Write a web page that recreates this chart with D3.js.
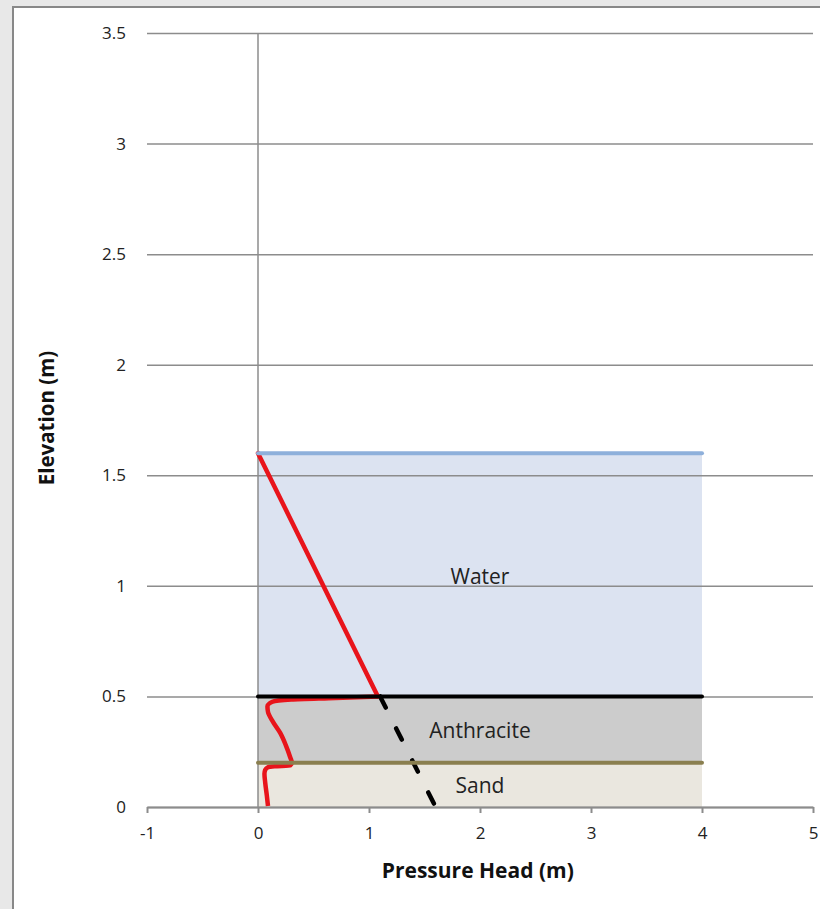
<!DOCTYPE html>
<html>
<head>
<meta charset="utf-8">
<script src="https://cdn.jsdelivr.net/npm/d3@7"></script>
<style>
  body { margin: 0; background: #e8e8e8; }
  svg { display: block; font-family: "Open Sans", "Liberation Sans", sans-serif; }
</style>
</head>
<body>
<svg id="chart" width="820" height="909"></svg>
<script>
// layers in the filter column
const layerNames = ['Water', 'Anthracite', 'Sand'];
const layerTops = [1.6, 0.5, 0.2];
const layerBottoms = [0.5, 0.2, 0];
const layerRight = 4;
const layerLabelY = [1.008, 0.312, 0.063];

// pressure head profile (red)
const waterHeadX = [0, 1.08];
const waterHeadY = [1.6, 0.5];
const mediaHeadX = [1.08, 0.7, 0.3, 0.13, 0.085, 0.09, 0.135, 0.2, 0.25, 0.29, 0.305, 0.29, 0.15, 0.09, 0.065, 0.058, 0.065, 0.08, 0.09];
const mediaHeadY = [0.5, 0.493, 0.486, 0.476, 0.455, 0.43, 0.385, 0.335, 0.28, 0.225, 0.2, 0.188, 0.184, 0.18, 0.168, 0.15, 0.11, 0.05, 0.005];

// hydrostatic extension (dashed)
const staticX = [1.1, 1.6];
const staticY = [0.5, 0];

const xTicks = [-1, 0, 1, 2, 3, 4, 5];
const yTicks = [0, 0.5, 1, 1.5, 2, 2.5, 3, 3.5];

const svg = d3.select('#chart');

// chart frame
svg.append('rect').attr('x', 0).attr('y', 0).attr('width', 820).attr('height', 909).attr('fill', '#e8e8e8');
svg.append('rect').attr('x', 13).attr('y', 7).attr('width', 830).attr('height', 920)
    .attr('fill', '#fff').attr('stroke', '#888').attr('stroke-width', 2);

const x = d3.scaleLinear().domain([-1, 5]).range([147, 813]);
const y = d3.scaleLinear().domain([0, 3.5]).range([807, 33]);

const fills = ['#dce3f1', '#cccccc', '#eae7df'];
const edges = ['#8eb0db', '#000000', '#8a7f4f'];

// layer fills
svg.selectAll('.layer')
    .data(layerNames)
    .enter()
    .append('rect')
    .attr('x', x(0))
    .attr('y', (d, i) => y(layerTops[i]))
    .attr('width', x(layerRight) - x(0))
    .attr('height', (d, i) => y(layerBottoms[i]) - y(layerTops[i]))
    .attr('fill', (d, i) => fills[i]);

// y gridlines + labels
const yAxis = svg.append('g')
    .attr('transform', `translate(${x(-1)},0)`)
    .call(d3.axisLeft(y).tickValues(yTicks).tickSize(-(x(5) - x(-1))).tickPadding(21).tickFormat(d => String(d)));
yAxis.attr('font-size', 17).attr('font-family', null);
yAxis.select('.domain').remove();
yAxis.selectAll('.tick line').attr('stroke', '#8c8c8c').attr('stroke-width', 1.5);
yAxis.selectAll('.tick text').attr('fill', '#222');

// vertical axis at x = 0
svg.append('line')
    .attr('x1', x(0)).attr('x2', x(0))
    .attr('y1', y(0)).attr('y2', y(3.5))
    .attr('stroke', '#8c8c8c').attr('stroke-width', 1.5);

// x axis
const xAxis = svg.append('g')
    .attr('transform', `translate(0,${y(0)})`)
    .call(d3.axisBottom(x).tickValues(xTicks).tickSize(6).tickSizeOuter(0).tickPadding(14).tickFormat(d => String(d)));
xAxis.attr('font-size', 17).attr('font-family', null);
xAxis.select('.domain').attr('stroke', '#8c8c8c').attr('stroke-width', 2);
xAxis.selectAll('.tick line').attr('stroke', '#8c8c8c').attr('stroke-width', 2);
xAxis.selectAll('.tick text').attr('fill', '#222');

// dashed hydrostatic line
svg.append('path')
    .datum(staticX.map((d, i) => [d, staticY[i]]))
    .attr('d', d3.line().x(d => x(d[0])).y(d => y(d[1])))
    .attr('fill', 'none')
    .attr('stroke', '#000')
    .attr('stroke-width', 4.5)
    .attr('stroke-linecap', 'round')
    .attr('stroke-dasharray', '12.5,23.3');

// pressure head profile
svg.append('path')
    .datum(waterHeadX.map((d, i) => [d, waterHeadY[i]]))
    .attr('d', d3.line().x(d => x(d[0])).y(d => y(d[1])))
    .attr('fill', 'none')
    .attr('stroke', '#e8141b')
    .attr('stroke-width', 4.5)
    .attr('stroke-linecap', 'round');

svg.append('path')
    .datum(mediaHeadX.map((d, i) => [d, mediaHeadY[i]]))
    .attr('d', d3.line().x(d => x(d[0])).y(d => y(d[1])).curve(d3.curveMonotoneY))
    .attr('fill', 'none')
    .attr('stroke', '#e8141b')
    .attr('stroke-width', 4.5)
    .attr('stroke-linejoin', 'round');

// layer boundary lines
svg.selectAll('.edge')
    .data(layerNames)
    .enter()
    .append('line')
    .attr('x1', x(0)).attr('x2', x(layerRight))
    .attr('y1', (d, i) => y(layerTops[i]))
    .attr('y2', (d, i) => y(layerTops[i]))
    .attr('stroke', (d, i) => edges[i])
    .attr('stroke-width', 4)
    .attr('stroke-linecap', 'round');

// layer labels
svg.selectAll('.layer-label')
    .data(layerNames)
    .enter()
    .append('text')
    .attr('x', x(2))
    .attr('y', (d, i) => y(layerLabelY[i]))
    .attr('text-anchor', 'middle')
    .attr('font-size', 21)
    .attr('fill', '#222')
    .text(d => d);

// axis titles
svg.append('text')
    .attr('x', x(1.98))
    .attr('y', 878)
    .attr('text-anchor', 'middle')
    .attr('font-size', 21)
    .attr('font-weight', 'bold')
    .attr('fill', '#111')
    .text('Pressure Head (m)');

svg.append('text')
    .attr('transform', `translate(54,${y(1.75) - 2}) rotate(-90)`)
    .attr('text-anchor', 'middle')
    .attr('font-size', 20.5)
    .attr('font-weight', 'bold')
    .attr('fill', '#111')
    .text('Elevation (m)');
</script>
</body>
</html>
